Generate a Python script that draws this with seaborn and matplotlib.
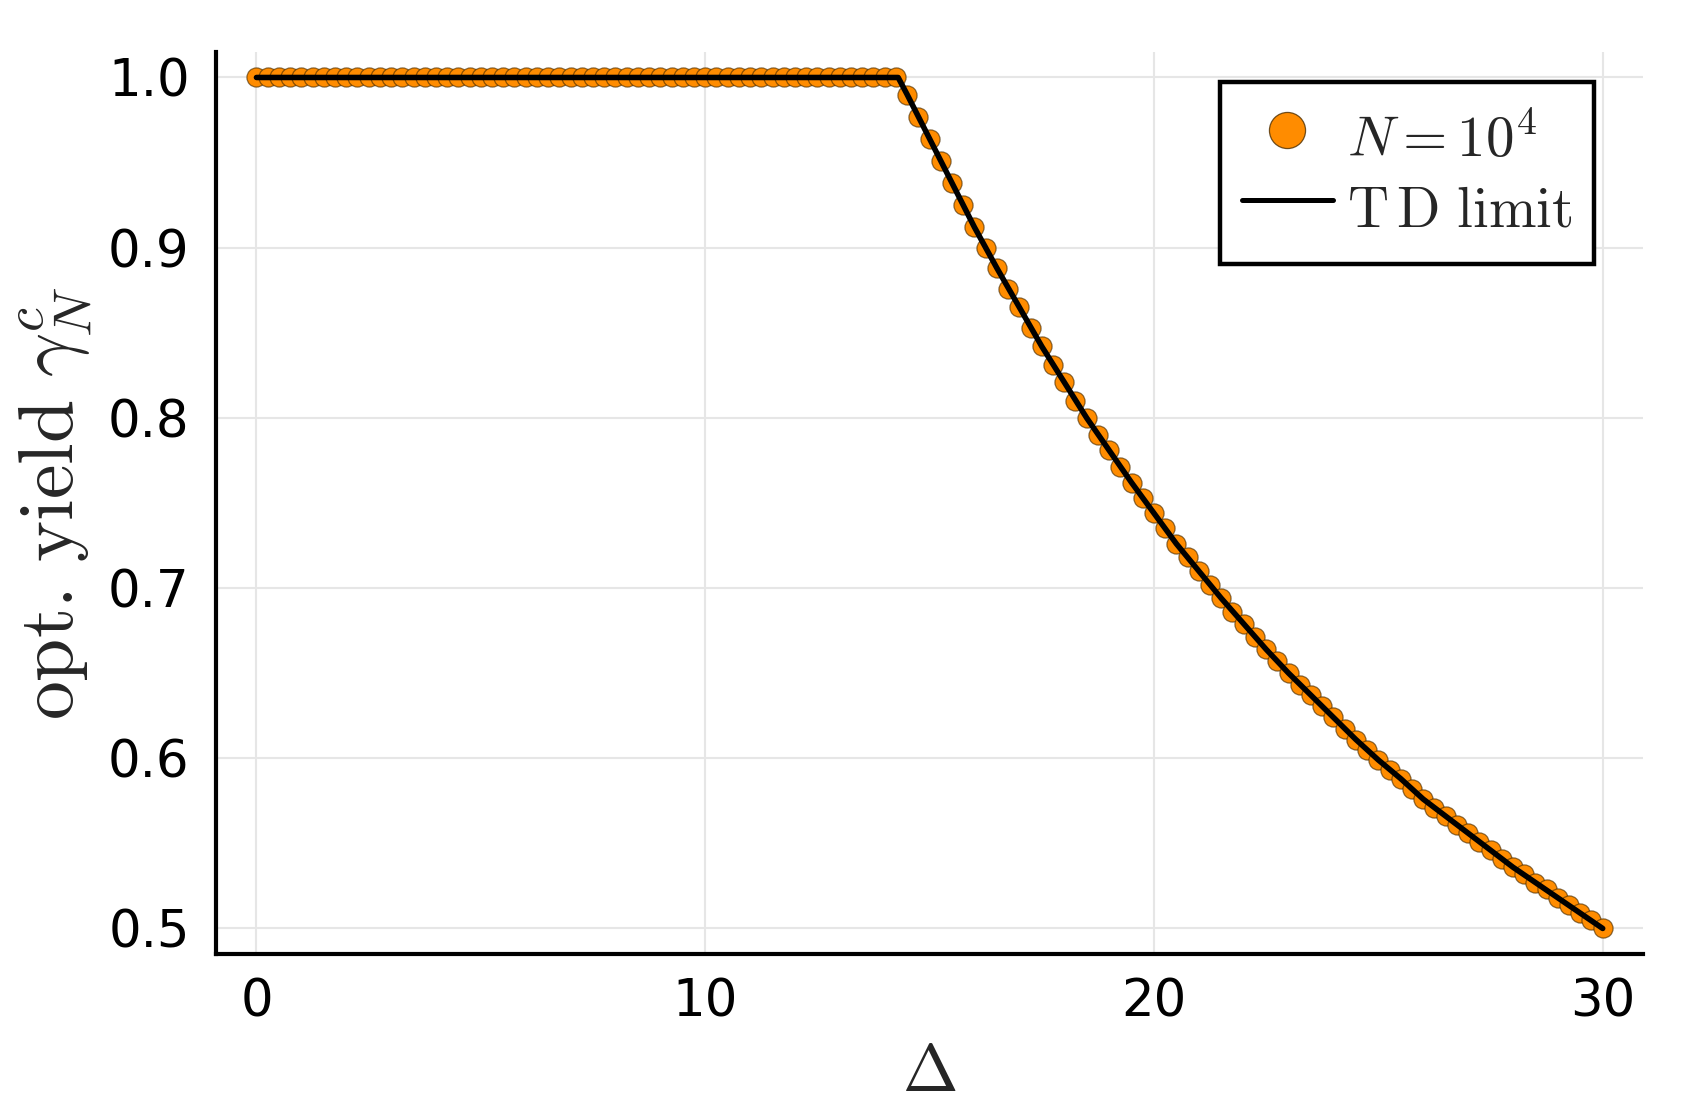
import numpy as np
import pandas as pd
import matplotlib
matplotlib.use("Agg")
import matplotlib.pyplot as plt
import seaborn as sns
from matplotlib.lines import Line2D

# ---- data ----
delta = np.arange(0, 30.0001, 0.25)  # Δ grid of the finite-N points (121 points)

yield_flat = [1.0] * 58  # Δ = 0 ... 14.25
yield_decay = [
    0.990, 0.977, 0.964, 0.951, 0.938, 0.925, 0.912, 0.900, 0.888, 0.876,
    0.865, 0.853, 0.842, 0.831, 0.821, 0.810, 0.800, 0.790, 0.781, 0.771,
    0.762, 0.753, 0.744, 0.735, 0.726, 0.718, 0.710, 0.702, 0.694, 0.686,
    0.679, 0.671, 0.664, 0.657, 0.650, 0.643, 0.637, 0.631, 0.624, 0.617,
    0.611, 0.605, 0.599, 0.593, 0.588, 0.582, 0.576, 0.571, 0.566, 0.561,
    0.556, 0.551, 0.546, 0.541, 0.536, 0.532, 0.527, 0.523, 0.518, 0.514,
    0.509, 0.505, 0.500,
]  # Δ = 14.5 ... 30
yield_N = yield_flat + yield_decay

td_delta = [0.0, 14.3, 14.5, 15.0, 15.5, 16.0, 16.5, 17.0, 17.5, 18.0, 18.5,
            19.0, 19.5, 20.0, 20.5, 21.0, 21.5, 22.0, 22.5, 23.0, 23.5, 24.0,
            24.5, 25.0, 25.5, 26.0, 26.5, 27.0, 27.5, 28.0, 28.5, 29.0, 29.5, 30.0]
td_yield = [1.0, 1.0, 0.990, 0.964, 0.938, 0.912, 0.888, 0.865, 0.842, 0.821, 0.800,
            0.781, 0.762, 0.744, 0.726, 0.710, 0.694, 0.679, 0.664, 0.650, 0.637, 0.624,
            0.611, 0.599, 0.588, 0.576, 0.566, 0.556, 0.546, 0.536, 0.527, 0.518, 0.509, 0.500]

x_ticks = [0, 10, 20, 30]
y_ticks = [0.5, 0.6, 0.7, 0.8, 0.9, 1.0]

df_pts = pd.DataFrame({"delta": delta, "yield": yield_N})
df_td = pd.DataFrame({"delta": td_delta, "yield": td_yield})

# ---- style ----
sns.set_style("white")
plt.rcParams["font.family"] = ["DejaVu Sans"]
plt.rcParams["mathtext.fontset"] = "cm"

DPI = 100
fig = plt.figure(figsize=(16.96, 11.03), dpi=DPI)
ax = fig.add_axes([0.1274, 0.1351, 0.8414, 0.8178])

orange = "#ff8c00"
sns.scatterplot(data=df_pts, x="delta", y="yield", ax=ax, color=orange, s=190,
                edgecolor=(0.3, 0.18, 0.0, 0.65), linewidth=0.9, zorder=3, legend=False)
sns.lineplot(data=df_td, x="delta", y="yield", ax=ax, color="black", linewidth=4.0,
             zorder=4, legend=False)

ax.set_xlim(-0.9, 30.9)
ax.set_ylim(0.485, 1.015)
ax.set_xticks(x_ticks)
ax.set_yticks(y_ticks)
ax.set_xticklabels([str(t) for t in x_ticks])
ax.set_yticklabels([f"{t:.1f}" for t in y_ticks])

ax.grid(True, color="#e6e6e6", linewidth=1.5)
ax.set_axisbelow(True)
for side in ["top", "right"]:
    ax.spines[side].set_visible(False)
for side in ["left", "bottom"]:
    ax.spines[side].set_color("black")
    ax.spines[side].set_linewidth(3.0)

ax.tick_params(axis="both", direction="in", length=11, width=2.6, color="black",
               labelsize=37, labelcolor="black")
ax.tick_params(axis="x", pad=17)
ax.tick_params(axis="y", pad=19)

ax.set_xlabel(r"$\Delta$", fontsize=48, labelpad=8)
ax.set_ylabel(r"$\mathrm{opt.\,yield}\ \gamma_N^c$", fontsize=56, labelpad=10)

handles = [
    Line2D([], [], linestyle="none", marker="o", markersize=26, markerfacecolor=orange,
           markeredgecolor=(0.3, 0.18, 0.0, 0.8), markeredgewidth=0.9),
    Line2D([], [], color="black", linewidth=3.6),
]
labels = [r"$N = 10^4$", r"$\mathrm{T\,D\ limit}$"]
leg = ax.legend(handles, labels, loc="upper right", bbox_to_anchor=(0.9655, 0.967),
                fontsize=41, frameon=True, fancybox=False, framealpha=1,
                edgecolor="black", handlelength=1.6, handletextpad=0.25,
                handleheight=1.5, borderpad=0.38, labelspacing=0.0, borderaxespad=0)
leg.get_frame().set_linewidth(3.2)

fig.savefig("out.png", dpi=DPI)
